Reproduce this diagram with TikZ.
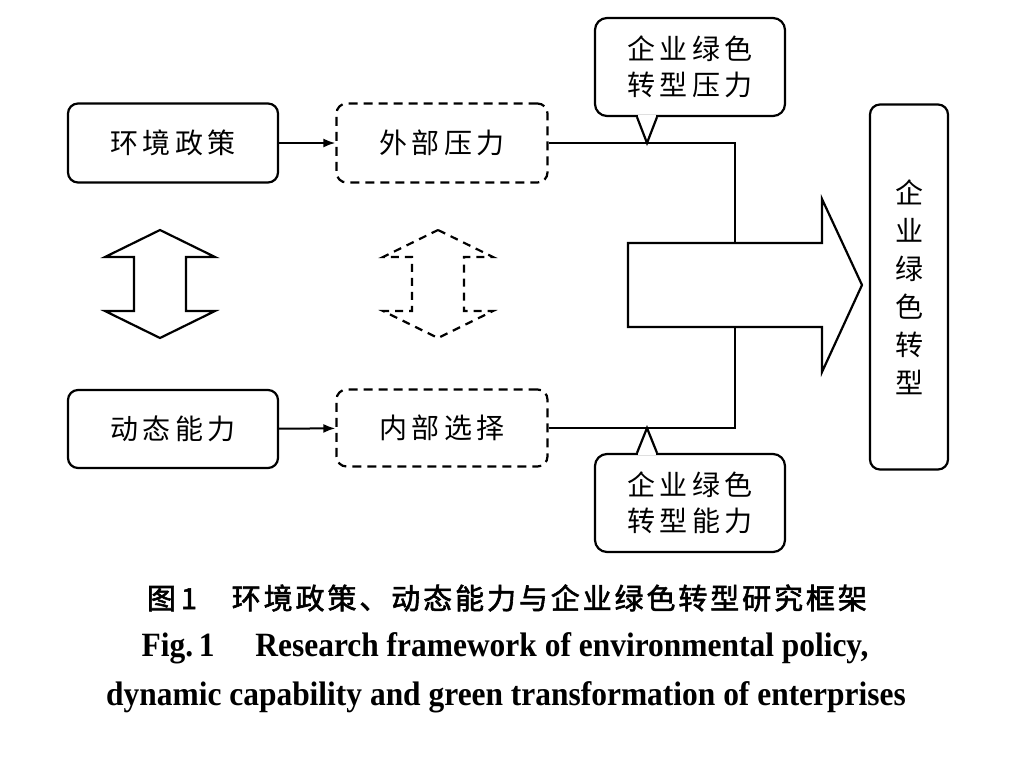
\documentclass[tikz,border=0pt]{standalone}
\usepackage{fontspec}
\setmainfont{Liberation Serif}
\newfontfamily\cjk[LetterSpace=15]{Noto Sans CJK SC}
\newfontfamily\capcjk[LetterSpace=10, FakeBold=2]{Noto Sans CJK SC}
\newfontfamily\capfont[FakeStretch=0.925]{Liberation Serif}
\usetikzlibrary{positioning, arrows.meta}

\tikzset{
  box/.style={draw, line width=2.2pt, rounded corners=10pt, minimum width=210pt, minimum height=79pt, font=\cjk\fontsize{28}{33}\selectfont},
  dashbox/.style={box, dashed, dash pattern=on 9pt off 6pt},
  bubble/.style={draw, line width=2.2pt, rounded corners=12pt, minimum width=190pt, minimum height=98pt, align=center, font=\cjk\fontsize{28}{36}\selectfont},
  updown/.pic={
    \draw[line width=2.2pt, pic actions] (0,-54) -- (55,-27) -- (26,-27) -- (26,27) -- (55,27) -- (0,54) -- (-55,27) -- (-26,27) -- (-26,-27) -- (-55,-27) -- cycle;
  },
}

\begin{document}
\begin{tikzpicture}[x=1pt, y=-1pt, >=Latex]
  \useasboundingbox (0,0) rectangle (1012,764);

  % left column
  \node[box] (policy) at (173,143) {环境政策};
  \node[box, minimum height=78pt] (dyncap) at (173,429) {动态能力};

  % middle column
  \node[dashbox, minimum width=211pt] (extpress) at (442,143) {外部压力};
  \node[dashbox, minimum width=211pt, minimum height=77pt] (intsel) at (442,428) {内部选择};

  % result
  \node[box, minimum width=78pt, minimum height=365pt, align=center, font=\cjk\fontsize{28}{38}\selectfont] (green) at (909,287) {企\\业\\绿\\色\\转\\型};

  % big arrow
  \coordinate (atop) at (735,243);
  \coordinate (abot) at (735,327);
  \draw[line width=2.2pt] (628,243) -- (822,243) -- (822,199) -- (862,285) -- (822,372) -- (822,327) -- (628,327) -- cycle;

  % double arrows
  \pic at (160,284) {updown};
  \pic[dashed, dash pattern=on 8pt off 6pt] at (438,284) {updown};

  % callouts
  \coordinate (ptop) at (647,143);
  \coordinate (pbot) at (647,428);
  \node[bubble] (gpress) at (690,67) {企业绿色\\转型压力};
  \node[bubble] (gcap) at (690,503) {企业绿色\\转型能力};
  \fill[white] ([xshift=-52pt, yshift=-2pt]gpress.south) rectangle ([xshift=-34pt, yshift=2pt]gpress.south);
  \draw[line width=2.2pt] ([xshift=-53pt]gpress.south) -- (ptop) -- ([xshift=-33pt]gpress.south);
  \fill[white] ([xshift=-52pt, yshift=-2pt]gcap.north) rectangle ([xshift=-34pt, yshift=2pt]gcap.north);
  \draw[line width=2.2pt] ([xshift=-53pt]gcap.north) -- (pbot) -- ([xshift=-33pt]gcap.north);

  % connectors
  \draw[->, line width=2pt] (policy) -- (extpress);
  \draw[->, line width=2pt] (dyncap) -- (intsel);
  \draw[line width=2.2pt] (extpress.east) -| (atop);
  \draw[line width=2.2pt] (intsel.east) -| (abot);

  % caption
  \node[font=\capcjk\fontsize{29}{30}\selectfont] (capzh) at (507,598) {图\,1\hspace{1.2em}环境政策、动态能力与企业绿色转型研究框架};
  \node[font=\capfont\bfseries\fontsize{34}{38}\selectfont] (capen) at (505,648) {Fig.\,1\hspace{1.2em}Research framework of environmental policy,};
  \node[font=\capfont\bfseries\fontsize{34}{38}\selectfont] (capen2) at (506,697) {dynamic capability and green transformation of enterprises};
\end{tikzpicture}
\end{document}
